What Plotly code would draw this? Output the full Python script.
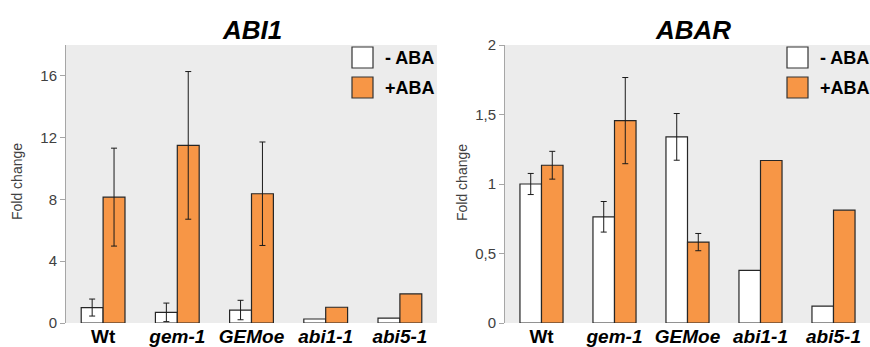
import plotly.graph_objects as go

# Genotypes on the x axis
genotypes = ["Wt", "gem-1", "GEMoe", "abi1-1", "abi5-1"]
genotype_labels = ["<b>Wt</b>", "<b><i>gem-1</i></b>", "<b><i>GEMoe</i></b>",
                   "<b><i>abi1-1</i></b>", "<b><i>abi5-1</i></b>"]

# ABI1 fold change
abi1_minus = [1.0, 0.69, 0.84, 0.26, 0.32]
abi1_minus_err = [0.55, 0.6, 0.63, None, None]
abi1_plus = [8.15, 11.5, 8.37, 1.02, 1.88]
abi1_plus_err = [3.17, 4.78, 3.35, None, None]

# ABAR fold change
abar_minus = [1.0, 0.764, 1.339, 0.378, 0.122]
abar_minus_err = [0.076, 0.11, 0.168, None, None]
abar_plus = [1.135, 1.456, 0.582, 1.169, 0.812]
abar_plus_err = [0.1, 0.31, 0.062, None, None]

abar_ticks = [0, 0.5, 1, 1.5, 2]
abar_ticktext = ["0", "0,5", "1", "1,5", "2"]
abi1_ticks = [0, 4, 8, 12, 16]

series_names = ["- ABA", "+ABA"]
series_colors = ["#FFFFFF", "#F79646"]

W, H = 870, 347
FONT = "Liberation Sans, Arial, sans-serif"

fig = go.Figure()


def add_bars(vals, errs, color, name, xa, ya):
    xs = list(range(len(genotypes)))
    # a non-numeric entry makes plotly.js skip that point's error bar
    err_arr = [e if e is not None else "none" for e in errs]
    fig.add_trace(go.Bar(
        x=xs, y=vals, name=name, xaxis=xa, yaxis=ya,
        marker=dict(color=color, line=dict(color="#262626", width=1.2)),
        error_y=dict(type="data", array=err_arr,
                     visible=True, color="#1a1a1a", thickness=1, width=3),
        showlegend=False,
    ))


add_bars(abi1_minus, abi1_minus_err, series_colors[0], series_names[0], "x", "y")
add_bars(abi1_plus, abi1_plus_err, series_colors[1], series_names[1], "x", "y")
add_bars(abar_minus, abar_minus_err, series_colors[0], series_names[0], "x2", "y2")
add_bars(abar_plus, abar_plus_err, series_colors[1], series_names[1], "x2", "y2")

# Panel geometry in pixels
left_dom = (66, 437)
right_dom = (505, 870)
plot_top, plot_bottom = 45, 323
ydom = [(H - plot_bottom) / H, (H - plot_top) / H]

xcommon = dict(
    tickmode="array", tickvals=list(range(len(genotypes))), ticktext=genotype_labels,
    range=[-0.5, 4.5], showgrid=False, zeroline=False, showline=False,
    ticks="", tickfont=dict(family=FONT, size=19, color="#000000"),
    automargin=False,
)
ycommon = dict(
    showgrid=False, zeroline=False, showline=True, linecolor="#A6A6A6", linewidth=1,
    ticks="outside", ticklen=5, tickcolor="#A6A6A6",
    tickfont=dict(family=FONT, size=15, color="#404040"),
    automargin=False,
)

fig.update_layout(
    width=W, height=H,
    margin=dict(l=0, r=0, t=0, b=0, autoexpand=False),
    paper_bgcolor="#FFFFFF",
    plot_bgcolor="#ECECEC",
    barmode="group", bargap=0.41, bargroupgap=0,
    xaxis=dict(domain=[left_dom[0] / W, left_dom[1] / W], anchor="y", **xcommon),
    xaxis2=dict(domain=[right_dom[0] / W, right_dom[1] / W], anchor="y2", **xcommon),
    yaxis=dict(domain=ydom, anchor="x", range=[0, 18], tickvals=abi1_ticks, **ycommon),
    yaxis2=dict(domain=ydom, anchor="x2", range=[0, 2], tickvals=abar_ticks,
                ticktext=abar_ticktext, **ycommon),
    font=dict(family=FONT),
)

# Panel titles
for text, xc in [("<b><i>ABI1</i></b>", 252), ("<b><i>ABAR</i></b>", 693)]:
    fig.add_annotation(x=xc / W, y=1 - 30 / H, xref="paper", yref="paper",
                       text=text, showarrow=False, xanchor="center", yanchor="middle",
                       font=dict(family=FONT, size=26, color="#000000"))

# Y axis titles
for xc in [17, 462]:
    fig.add_annotation(x=xc / W, y=1 - 182 / H, xref="paper", yref="paper",
                       text="Fold change", textangle=-90, showarrow=False,
                       xanchor="center", yanchor="middle",
                       font=dict(family=FONT, size=14, color="#404040"))

# Legend boxes with labels, one legend per panel
for box_x in [352, 787]:
    for i, (name, color) in enumerate(zip(series_names, series_colors)):
        y0 = 47 + i * 30
        fig.add_shape(type="rect", xref="paper", yref="paper",
                      x0=box_x / W, x1=(box_x + 21) / W,
                      y0=1 - (y0 + 21) / H, y1=1 - y0 / H,
                      fillcolor=color, line=dict(color="#333333", width=1.2))
        fig.add_annotation(x=(box_x + 31) / W, y=1 - (y0 + 11) / H,
                           xref="paper", yref="paper", text=f"<b>{name}</b>",
                           showarrow=False, xanchor="left", yanchor="middle",
                           font=dict(family=FONT, size=18, color="#000000"))

fig.write_html("out.html")
